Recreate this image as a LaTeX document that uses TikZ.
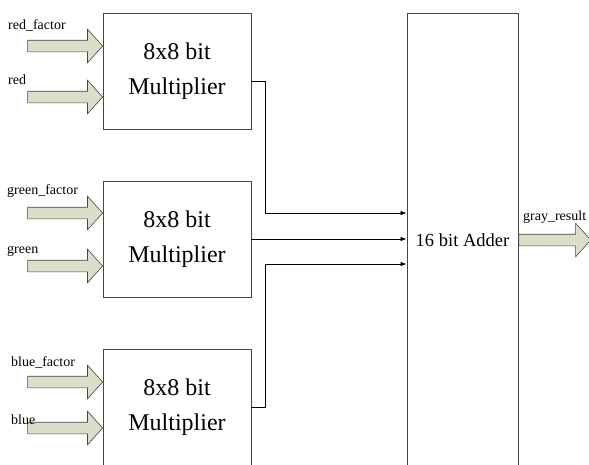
\documentclass[tikz,border=0pt]{standalone}
\usepackage{fontspec}
\setmainfont{Liberation Serif}
\usetikzlibrary{shapes.arrows,arrows.meta}
\definecolor{arrowfill}{RGB}{219,223,201}
\definecolor{boxline}{RGB}{70,70,70}
\begin{document}
\begin{tikzpicture}[x=1pt,y=-1pt,
  box/.style={draw=boxline,line width=0.9pt,minimum width=148pt,minimum height=116pt,inner sep=0pt,
    font=\fontsize{24}{35}\selectfont,align=center},
  bigarrow/.style={single arrow,draw=boxline,line width=0.6pt,fill=arrowfill,
    single arrow head extend=11pt,inner xsep=0pt,inner ysep=5.5pt,single arrow tip angle=96},
  inarrow/.style={bigarrow,minimum height=75pt,anchor=tip},
  lbl/.style={font=\fontsize{14}{16}\selectfont,anchor=base west,inner sep=0pt},
  conn/.style={draw=black,line width=0.7pt,-{Latex[length=6pt,width=4.5pt]}}]
\useasboundingbox (0,0) rectangle (589,464);
\clip (0,0) rectangle (589,464);
% multipliers
\node[box] (m1) at (177,71) {8x8 bit\\Multiplier};
\node[box] (m2) at (177,239) {8x8 bit\\Multiplier};
\node[box] (m3) at (177,407) {8x8 bit\\Multiplier};
% adder
\node[draw=boxline,line width=0.9pt,minimum width=111pt,minimum height=454pt,inner sep=0pt,
  font=\fontsize{18.5}{22}\selectfont] (add) at (462.5,240) {16 bit Adder};
% input arrows
\node[inarrow] (a1) at (103,46) {};
\node[inarrow] (a2) at (103,97) {};
\node[inarrow] (a3) at (103,213) {};
\node[inarrow] (a4) at (103,266) {};
\node[inarrow] (a5) at (103,382) {};
\node[inarrow] (a6) at (103,428) {};
% labels
\node[lbl] (l1) at (8,29) {red\_factor};
\node[lbl] (l2) at (8,84) {red};
\node[lbl] (l3) at (7,194) {green\_factor};
\node[lbl] (l4) at (7,253) {green};
\node[lbl] (l5) at (11,366) {blue\_factor};
\node[lbl] (l6) at (11,424) {blue};
% connectors
\coordinate (j1) at (265,213);
\coordinate (j3) at (265,264);
\draw[conn] ([yshift=-10pt]m1.east) -| (j1) -- (j1 -| add.west);
\draw[conn] (m2.east) -- (m2.east -| add.west);
\draw[conn] (m3.east) -| (j3) -- (j3 -| add.west);
% output
\node[bigarrow,minimum height=72pt,anchor=tail] (out) at (add.east) {};
\node[lbl] (l7) at (523,220) {gray\_result};
\end{tikzpicture}
\end{document}
